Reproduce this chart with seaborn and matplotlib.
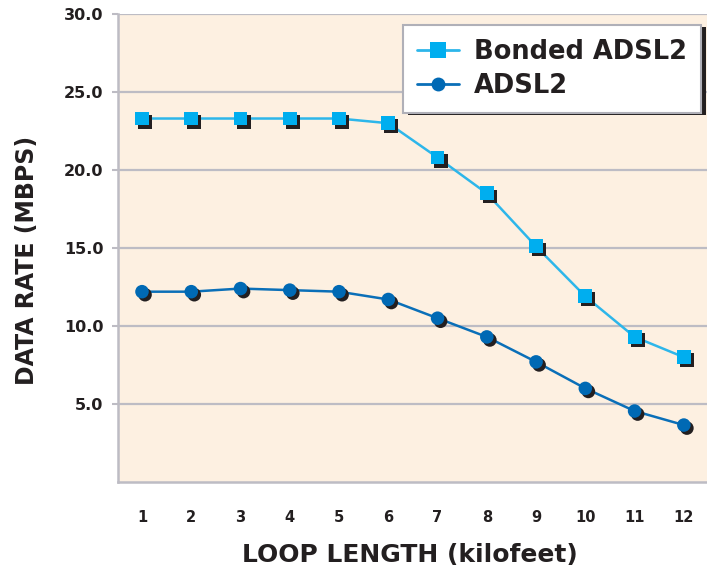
import numpy as np
import pandas as pd
import matplotlib
matplotlib.use("Agg")
import matplotlib.pyplot as plt
import matplotlib.patheffects as pe
from matplotlib.lines import Line2D
import seaborn as sns

loop_length = [1, 2, 3, 4, 5, 6, 7, 8, 9, 10, 11, 12]
bonded_adsl2 = [23.3, 23.3, 23.3, 23.3, 23.3, 23.0, 20.8, 18.5, 15.1, 11.9, 9.3, 8.0]
adsl2 = [12.2, 12.2, 12.4, 12.3, 12.2, 11.7, 10.5, 9.3, 7.7, 6.0, 4.55, 3.65]
series_names = ["Bonded ADSL2", "ADSL2"]
y_ticks = [5, 10, 15, 20, 25, 30]
y_tick_labels = ["5.0", "10.0", "15.0", "20.0", "25.0", "30.0"]

df = pd.DataFrame({
    "x": loop_length * 2,
    "y": bonded_adsl2 + adsl2,
    "series": [series_names[0]] * len(loop_length) + [series_names[1]] * len(loop_length),
})

sns.set_theme(style="white")
plt.rcParams["font.family"] = ["DejaVu Sans"]

text_c = "#231F20"
grid_c = "#BDBCC4"
line_pal = {"Bonded ADSL2": "#2DB6EA", "ADSL2": "#0A6FB8"}
mark_pal = {"Bonded ADSL2": "#00AEEF", "ADSL2": "#0069B4"}
markers = {"Bonded ADSL2": "s", "ADSL2": "o"}

fig = plt.figure(figsize=(7.07, 5.71), dpi=100)
ax = fig.add_axes([118 / 707, 89 / 571, 589 / 707, 468 / 571])
ax.set_facecolor("#FDF0E1")

sns.lineplot(data=df, x="x", y="y", hue="series", palette=line_pal,
             linewidth=1.8, legend=False, ax=ax, zorder=3)
shadow = [pe.SimplePatchShadow(offset=(2.2, -2.2), shadow_rgbFace="#231F20", alpha=1.0), pe.Normal()]
for name in series_names:
    sub = df[df["series"] == name]
    sns.scatterplot(data=sub, x="x", y="y", color=mark_pal[name], marker=markers[name],
                    s=100 if name == "Bonded ADSL2" else 95, edgecolor="none", linewidth=0,
                    legend=False, ax=ax, zorder=4, path_effects=shadow)

ax.set_xlim(0.513, 12.47)
ax.set_ylim(0, 30)
ax.set_yticks(y_ticks)
ax.set_yticklabels(y_tick_labels)
ax.set_xticks(loop_length)
ax.set_xticklabels([str(v) for v in loop_length])
ax.yaxis.grid(True, color=grid_c, linewidth=1.6)
ax.xaxis.grid(False)
ax.set_axisbelow(True)

for s in ["top", "right"]:
    ax.spines[s].set_visible(False)
for s in ["left", "bottom"]:
    ax.spines[s].set_color(grid_c)
    ax.spines[s].set_linewidth(1.8)

ax.tick_params(axis="y", which="major", left=True, length=4.5, width=1.5, color=grid_c,
               pad=6, labelsize=11.5, labelcolor=text_c)
ax.tick_params(axis="x", which="major", bottom=False, length=0, pad=20,
               labelsize=10.5, labelcolor=text_c)
for lab in ax.get_yticklabels() + ax.get_xticklabels():
    lab.set_fontweight("bold")

ax.set_xlabel("LOOP LENGTH (kilofeet)", fontsize=18, fontweight="heavy", color=text_c)
ax.set_ylabel("DATA RATE (MBPS)", fontsize=17, fontweight="heavy", color=text_c)
ax.xaxis.set_label_coords(0.495, -0.131)
ax.yaxis.set_label_coords(-0.134, 0.474)

handles = [
    Line2D([0], [0], color=line_pal[n], lw=2, marker=markers[n], markersize=11 if n == "Bonded ADSL2" else 10,
           markerfacecolor=mark_pal[n], markeredgewidth=0)
    for n in series_names
]
leg = ax.legend(handles, series_names, loc="upper right", bbox_to_anchor=(0.99, 0.976),
                borderaxespad=0,
                frameon=True, fancybox=False, framealpha=1, edgecolor="#B0B0B8",
                prop={"weight": "heavy", "size": 18.5}, handlelength=1.6, handletextpad=0.6,
                borderpad=0.55, labelspacing=0.3)
leg.get_frame().set_linewidth(1.5)
leg.get_frame().set_path_effects([
    pe.SimplePatchShadow(offset=(3.5, -1.5), shadow_rgbFace="#231F20", alpha=1.0), pe.Normal()])
for t in leg.get_texts():
    t.set_color(text_c)

fig.savefig("out.png", dpi=100, facecolor="white")
